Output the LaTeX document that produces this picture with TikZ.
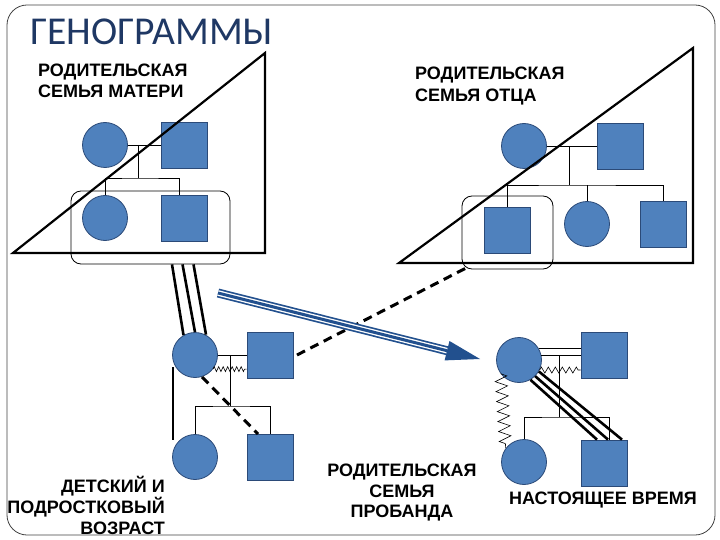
\documentclass[tikz,border=0pt]{standalone}
\usepackage{fontspec}
\setmainfont{Liberation Sans}
\newfontfamily\titlefont{Carlito}
\usetikzlibrary{decorations.pathmorphing,calc}
\definecolor{fillblue}{HTML}{4F81BD}
\definecolor{edgeblue}{HTML}{2B4A78}
\definecolor{titleblue}{HTML}{1F3864}
\definecolor{arrowblue}{HTML}{22508E}
\begin{document}
\begin{tikzpicture}[x=1pt,y=-1pt,
 fem/.style={circle,fill=fillblue,draw=edgeblue,line width=0.8pt,minimum size=45pt,inner sep=0pt},
 mal/.style={rectangle,fill=fillblue,draw=edgeblue,line width=0.8pt,minimum size=46pt,inner sep=0pt},
 rel/.style={line width=0.8pt,black},
 tri/.style={line width=2.2pt,black,line join=miter},
 grp/.style={draw,line width=0.8pt,rounded corners=10pt,inner sep=0pt},
 triple/.style={line width=2.6pt,black},
 dsh/.style={line width=3pt,black,dash pattern=on 9pt off 6pt},
 conflict/.style={decorate,decoration={zigzag,segment length=4.5pt,amplitude=2.5pt},line width=0.6pt},
 lbl/.style={font=\bfseries\fontsize{18}{20.5}\selectfont,inner sep=0pt}]
\useasboundingbox (0,0) rectangle (720,540);
% frame
\draw[line width=0.8pt,black!75,rounded corners=20pt] (7,5) rectangle (715,535);
% title
\node[anchor=base west,inner sep=0pt,text=titleblue,font=\titlefont\fontsize{39.5}{44}\selectfont] (title) at (30,44.5) {ГЕНОГРАММЫ};

% group boxes
\node[grp,minimum width=159pt,minimum height=73pt] (mgrp) at (150.5,227.5) {};
\node[grp,minimum width=91pt,minimum height=73pt] (fgrp) at (507.5,232.5) {};

% ---------- mother's family ----------
\node[fem] (mgm) at (105,145) {};
\node[mal] (mgf) at (184,145) {};
\node[fem] (mo1) at (105,218) {};
\node[mal] (mb) at (184,218) {};
\coordinate (mj) at (138,145);
\coordinate (ms) at (138,178);
\draw[rel] (mgm) -- (mgf);
\draw[rel] (mj) -- (ms);
\draw[rel] (mo1.north) |- (ms) -| ([xshift=-5pt]mb.north);

% ---------- father's family ----------
\node[fem] (fgm) at (524,146) {};
\node[mal] (fgf) at (620,146) {};
\node[mal] (fa1) at (507,230) {};
\node[fem] (fs) at (587,224) {};
\node[mal] (fb) at (663,224) {};
\coordinate (fj) at (569,146);
\coordinate (fsb) at (569,185);
\draw[rel] (fgm) -- (fgf);
\draw[rel] (fj) -- (fsb);
\draw[rel] (fa1.north) |- (fsb) -| (fb.north);
\draw[rel] (fs.north) -- (fs.north |- fsb);

% ---------- proband's parental family ----------
\node[fem] (mo) at (195,355) {};
\node[mal] (fath) at (270,355) {};
\node[fem] (sis) at (195,457) {};
\node[mal] (bro) at (270,457) {};
\coordinate (pj) at (230,355);
\coordinate (ps) at (230,406);
\draw[rel] (mo) -- (fath);
\draw[conflict] (mo.-38) -- (mo.-38 -| fath.west);
\draw[rel] (pj) -- (ps);
\draw[rel] (sis.north) |- (ps) -| (bro.north);
% close line
\coordinate (cl1) at (173,367);
\coordinate (cl2) at (173,440);
\draw[line width=2.2pt] (cl1) -- (cl2);
% triple lines mother -> mother's group
\draw[triple] ([xshift=21.5pt]mgrp.south) -- ([xshift=-11.5pt,yshift=-3pt]mo.north);
\draw[triple] ([xshift=32pt]mgrp.south) -- (mo.north);
\draw[triple] ([xshift=43pt]mgrp.south) -- ([xshift=11pt,yshift=-2.5pt]mo.north);
% dashed lines
\coordinate (d1s) at (202,377);
\coordinate (d1e) at (258,434);
\draw[dsh] (d1s) -- (d1e);
\coordinate (d2s) at (297,355);
\coordinate (d2e) at (470,266);
\draw[dsh] (d2s) -- (d2e);

% ---------- present family ----------
\node[fem] (pm) at (519,360) {};
\node[mal] (pf) at (604,355) {};
\node[fem] (pc1) at (524,462) {};
\node[mal] (pc2) at (604,463) {};
\draw[rel] (pm.30) -- (pm.30 -| pf.west);
\draw[rel] (pm.12) -- (pm.12 -| pf.west);
\draw[decorate,decoration={zigzag,segment length=7pt,amplitude=3pt},line width=0.6pt] (pm.-26) -- (pm.-26 -| pf.west);
\coordinate (qj) at (559,355);
\coordinate (qs) at (559,417);
\draw[rel] (qj) -- (qs);
\draw[rel] (pc1.north) |- (qs) -| ([xshift=5pt]pc2.north);
\draw[decorate,decoration={zigzag,segment length=10pt,amplitude=6pt},line width=0.6pt] (pm.-143) -- (pc1.143);
\draw[triple] (pm.-60) -- ([xshift=-7pt]pc2.north);
\draw[triple] (pm.-45) -- ([xshift=4pt]pc2.north);
\draw[triple] (pm.-30) -- ([xshift=18pt]pc2.north);

% ---------- blue arrow ----------
\coordinate (as) at (218,293);
\coordinate (at) at (480,359);
\coordinate (ab) at ($(at)!34pt!(as)$);
\coordinate (aw1) at ($(ab)!10pt!90:(at)$);
\coordinate (aw2) at ($(ab)!10pt!-90:(at)$);
\draw[line width=9pt,arrowblue] (as) -- (ab);
\draw[line width=5.6pt,white] (as) -- (ab);
\draw[line width=3pt,arrowblue] (as) -- (ab);
\fill[arrowblue] (at) -- (aw1) -- (aw2) -- cycle;

% ---------- triangles ----------
\draw[tri] (13,253) -- (265,53) -- (265,253) -- cycle;
\draw[tri] (399,263) -- (693,48) -- (693,263) -- cycle;

% ---------- labels ----------
\node[lbl,anchor=north west,align=left] (t1) at (38,64) {РОДИТЕЛЬСКАЯ\\СЕМЬЯ МАТЕРИ};
\node[lbl,anchor=north west,align=left,font=\bfseries\fontsize{18}{22}\selectfont] (t2) at (415,67) {РОДИТЕЛЬСКАЯ\\СЕМЬЯ ОТЦА};
\node[lbl,anchor=north east,align=right,font=\bfseries\fontsize{18}{21}\selectfont] (t3) at (165,476) {ДЕТСКИЙ И\\ПОДРОСТКОВЫЙ\\ВОЗРАСТ};
\node[lbl,anchor=north,align=center] (t4) at (402,464) {РОДИТЕЛЬСКАЯ\\СЕМЬЯ\\ПРОБАНДА};
\node[lbl,anchor=north] (t5) at (603,492) {НАСТОЯЩЕЕ ВРЕМЯ};
\end{tikzpicture}
\end{document}
